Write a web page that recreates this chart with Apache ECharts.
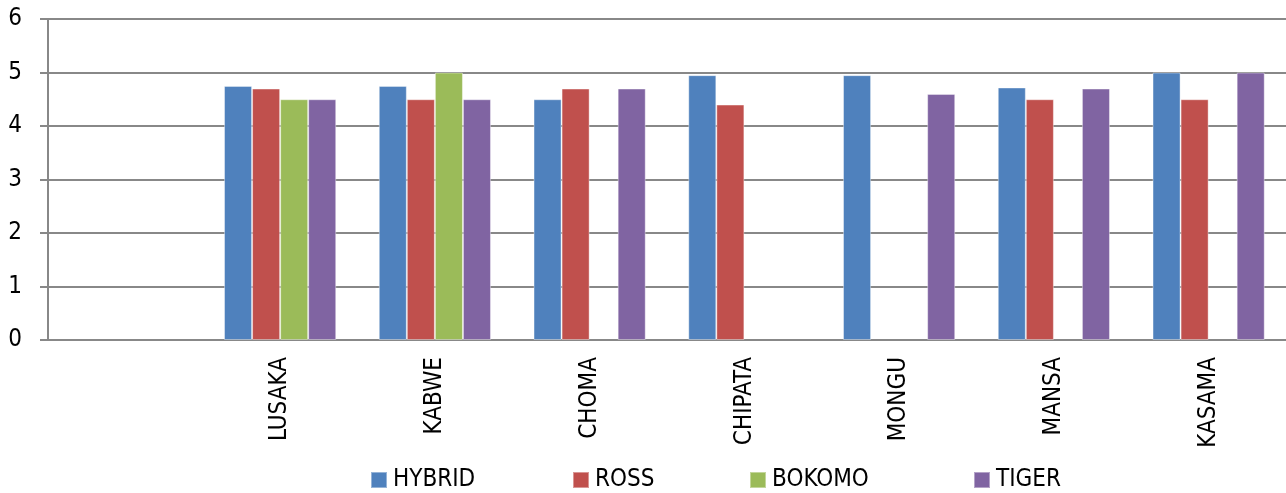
<!DOCTYPE html>
<html>
<head>
<meta charset="UTF-8"/>
<title>chart</title>
<script src="https://cdn.jsdelivr.net/npm/echarts@6/dist/echarts.min.js"></script>
<style>
html,body{margin:0;padding:0;background:#fff;}
#main{width:1286px;height:493px;}
</style>
<script type="text/javascript">
var categories = ['', 'LUSAKA', 'KABWE', 'CHOMA', 'CHIPATA', 'MONGU', 'MANSA', 'KASAMA'];
var hybrid = [null, 4.75, 4.75, 4.5, 4.95, 4.95, 4.72, 5];
var ross   = [null, 4.7, 4.5, 4.7, 4.4, null, 4.5, 4.5];
var bokomo = [null, 4.5, 5, null, null, null, null, null];
var tiger  = [null, 4.5, 4.5, 4.7, null, 4.6, 4.7, 5];
var seriesNames = ['HYBRID', 'ROSS', 'BOKOMO', 'TIGER'];
var yTicks = [0, 1, 2, 3, 4, 5, 6];
</script>
</head>
<body>
<div id="main"></div>
<script type="text/javascript">
var font = "'Liberation Sans Narrow', 'DejaVu Sans Condensed', 'Open Sans', sans-serif";
var myChart = echarts.init(document.getElementById('main'));
function bar(name, data, color){
    return {
        name: name,
        type: 'bar',
        data: data,
        barGap: '0%',
        barCategoryGap: '27.5%',
        itemStyle: {color: color, borderColor: 'rgba(255,255,255,0.4)', borderWidth: 1},
        animation: false
    };
}
// one legend per item, placed where the excel legend puts them
var legendX = [370, 572, 749, 973];
var legends = [];
for (var i = 0; i < seriesNames.length; i++) {
    legends.push({
        left: legendX[i],
        top: 468,
        padding: 0,
        itemWidth: 16,
        itemHeight: 16,
        itemGap: 0,
        icon: 'rect',
        textStyle: {fontFamily: font, fontSize: 24, color: '#000', padding: [0, 0, 0, 1]},
        data: [seriesNames[i]]
    });
}
var option = {
    backgroundColor: '#fff',
    textStyle: {fontFamily: font},
    grid: {left: 48, top: 19, width: 1248, height: 321},
    legend: legends,
    xAxis: {
        type: 'category',
        data: categories,
        axisLine: {lineStyle: {color: '#888', width: 2}},
        axisTick: {show: false},
        axisLabel: {rotate: 90, margin: 17, color: '#000', fontSize: 24, fontFamily: font, interval: 0}
    },
    yAxis: {
        type: 'value',
        min: yTicks[0],
        max: yTicks[yTicks.length - 1],
        interval: 1,
        axisLine: {show: true, lineStyle: {color: '#888', width: 2}},
        axisTick: {show: true, length: 8, lineStyle: {color: '#888', width: 2}},
        splitLine: {lineStyle: {color: '#888', width: 2}},
        axisLabel: {margin: 26, color: '#000', fontSize: 24, fontFamily: font}
    },
    series: [
        bar(seriesNames[0], hybrid, '#4F81BD'),
        bar(seriesNames[1], ross, '#C0504D'),
        bar(seriesNames[2], bokomo, '#9BBB59'),
        bar(seriesNames[3], tiger, '#8064A2')
    ]
};
myChart.setOption(option);
</script>
</body>
</html>
